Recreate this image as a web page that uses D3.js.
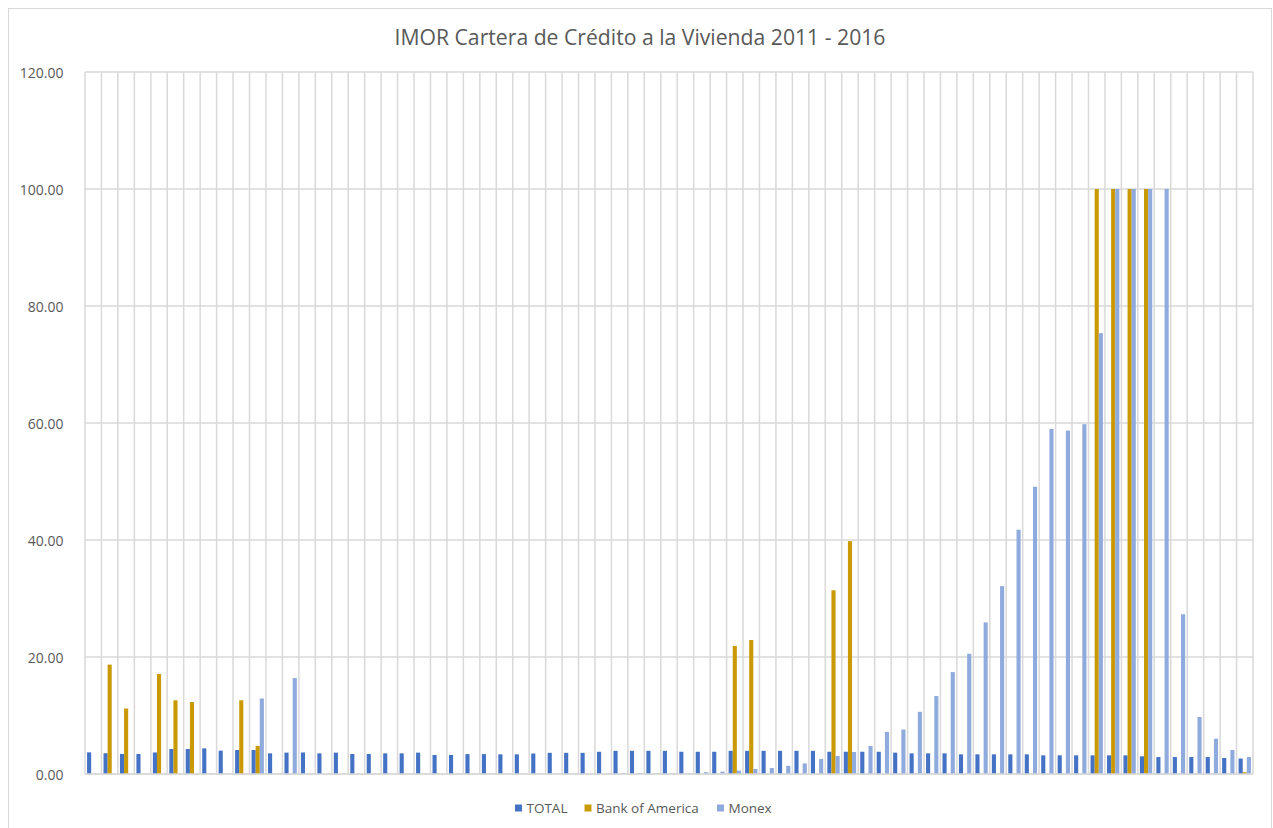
<!DOCTYPE html>
<html>
<head>
<meta charset="utf-8">
<script src="https://cdn.jsdelivr.net/npm/d3@7"></script>
<style>
  html, body { margin: 0; padding: 0; background: #ffffff; }
  svg { display: block; }
  text { font-family: "Open Sans", "Noto Sans", sans-serif; fill: #595959; }
</style>
</head>
<body>
<svg id="chart" width="1273" height="828"></svg>
<script>
// Monthly categories, Jan 2011 – Nov 2016
const categories = [
  "ene-11","feb-11","mar-11","abr-11","may-11","jun-11","jul-11","ago-11","sep-11","oct-11","nov-11","dic-11",
  "ene-12","feb-12","mar-12","abr-12","may-12","jun-12","jul-12","ago-12","sep-12","oct-12","nov-12","dic-12",
  "ene-13","feb-13","mar-13","abr-13","may-13","jun-13","jul-13","ago-13","sep-13","oct-13","nov-13","dic-13",
  "ene-14","feb-14","mar-14","abr-14","may-14","jun-14","jul-14","ago-14","sep-14","oct-14","nov-14","dic-14",
  "ene-15","feb-15","mar-15","abr-15","may-15","jun-15","jul-15","ago-15","sep-15","oct-15","nov-15","dic-15",
  "ene-16","feb-16","mar-16","abr-16","may-16","jun-16","jul-16","ago-16","sep-16","oct-16","nov-16"
];

const seriesNames = ["TOTAL", "Bank of America", "Monex"];

// IMOR (%) per month
const totalValues = [
  3.70, 3.55, 3.42, 3.42, 3.68, 4.27, 4.27, 4.38, 3.99, 4.10, 4.10, 3.53,
  3.65, 3.68, 3.53, 3.65, 3.42, 3.42, 3.53, 3.53, 3.65, 3.25, 3.25, 3.40,
  3.40, 3.36, 3.36, 3.50, 3.62, 3.62, 3.62, 3.80, 3.96, 3.96, 3.96, 3.96,
  3.80, 3.80, 3.80, 3.96, 3.96, 3.96, 3.96, 3.96, 3.96, 3.80, 3.80, 3.80,
  3.80, 3.65, 3.53, 3.53, 3.53, 3.36, 3.36, 3.36, 3.36, 3.36, 3.19, 3.19,
  3.19, 3.19, 3.19, 3.19, 3.02, 2.90, 2.90, 2.90, 2.90, 2.74, 2.64
];

const bankOfAmericaValues = [
  0, 18.70, 11.20, 0, 17.10, 12.60, 12.30, 0, 0, 12.60, 4.80, 0,
  0, 0, 0, 0, 0, 0, 0, 0, 0, 0, 0, 0,
  0, 0, 0, 0, 0, 0, 0, 0, 0, 0, 0, 0,
  0, 0, 0, 21.90, 22.90, 0, 0, 0, 0, 31.40, 39.80, 0,
  0, 0, 0, 0, 0, 0, 0, 0, 0, 0, 0, 0,
  0, 100.00, 100.00, 100.00, 100.00, 0, 0, 0, 0, 0, 0.30
];

const monexValues = [
  0, 0, 0, 0, 0, 0, 0, 0, 0, 0, 12.90, 0,
  16.40, 0, 0, 0, 0, 0, 0, 0, 0, 0, 0, 0,
  0, 0, 0, 0, 0, 0, 0, 0, 0.10, 0.10, 0.10, 0.10,
  0.10, 0.30, 0.40, 0.57, 0.85, 1.02, 1.40, 1.81, 2.56, 3.08, 3.76, 4.79,
  7.20, 7.60, 10.63, 13.32, 17.42, 20.55, 25.92, 32.12, 41.76, 49.10, 58.98, 58.70,
  59.80, 75.36, 100.00, 100.00, 100.00, 100.00, 27.30, 9.74, 6.03, 4.10, 2.90
];

const yTicks = [0, 20, 40, 60, 80, 100, 120];

const colors = { "TOTAL": "#4472C4", "Bank of America": "#C99A06", "Monex": "#8FAADC" };

const seriesValues = {
  "TOTAL": totalValues,
  "Bank of America": bankOfAmericaValues,
  "Monex": monexValues
};

const svg = d3.select("#chart");
const W = 1273, H = 828;
const plot = { left: 85, right: 1253, top: 72, bottom: 774 };

// chart frame
svg.append("rect")
  .attr("x", 8.5).attr("y", 8.5)
  .attr("width", 1263).attr("height", 830)
  .attr("fill", "#ffffff").attr("stroke", "#d9d9d9").attr("stroke-width", 1);

// title
const title = svg.append("text")
  .attr("x", 640).attr("y", 45)
  .attr("text-anchor", "middle")
  .style("font-size", "20px")
  .text("IMOR Cartera de Crédito a la Vivienda 2011 - 2016");
const tw = title.node().getComputedTextLength();
title.style("font-size", (20 * 491 / tw).toFixed(2) + "px");

const x0 = d3.scaleBand().domain(categories).range([plot.left, plot.right]).paddingInner(0).paddingOuter(0);
const x1 = d3.scaleBand().domain(seriesNames).range([0, x0.bandwidth()]).paddingInner(0).paddingOuter(0.5);
const y = d3.scaleLinear().domain([0, 120]).range([plot.bottom, plot.top]);

// horizontal gridlines
svg.append("g")
  .selectAll("line")
  .data(yTicks)
  .join("line")
  .attr("x1", plot.left).attr("x2", plot.right)
  .attr("y1", d => y(d)).attr("y2", d => y(d))
  .attr("stroke", "#d9d9d9").attr("stroke-width", 1.5);

// vertical gridlines at category boundaries
const boundaries = categories.map(c => x0(c)).concat([x0(categories[categories.length - 1]) + x0.bandwidth()]);
svg.append("g")
  .selectAll("line")
  .data(boundaries)
  .join("line")
  .attr("x1", d => d).attr("x2", d => d)
  .attr("y1", plot.top).attr("y2", plot.bottom)
  .attr("stroke", "#d9d9d9").attr("stroke-width", 1.5);

// y axis labels
const yAxis = d3.axisLeft(y).tickValues(yTicks).tickFormat(d3.format(".2f")).tickSize(0).tickPadding(0);
const yg = svg.append("g").attr("transform", `translate(${plot.left - 21.5},0)`).call(yAxis);
yg.select(".domain").remove();
yg.selectAll("text")
  .style("font-size", "14px")
  .style("font-family", "\"Open Sans\", \"Noto Sans\", sans-serif")
  .attr("fill", "#595959")
  .attr("dy", "0.36em");

// bars
const groups = svg.append("g")
  .selectAll("g")
  .data(categories)
  .join("g")
  .attr("transform", d => `translate(${x0(d)},0)`);

groups.selectAll("rect")
  .data((c, i) => seriesNames.map(s => ({ s, v: seriesValues[s][i] })))
  .join("rect")
  .attr("x", d => x1(d.s))
  .attr("width", x1.bandwidth())
  .attr("y", d => y(d.v))
  .attr("height", d => y(0) - y(d.v))
  .attr("fill", d => colors[d.s]);

// horizontal axis line
svg.append("line")
  .attr("x1", plot.left).attr("x2", plot.right)
  .attr("y1", y(0)).attr("y2", y(0))
  .attr("stroke", "#d9d9d9").attr("stroke-width", 1.5);

// legend
const legendItems = [
  { name: "TOTAL", sx: 515, tx: 526.5 },
  { name: "Bank of America", sx: 584.5, tx: 596 },
  { name: "Monex", sx: 717, tx: 728.5 }
];
const lg = svg.append("g");
legendItems.forEach(it => {
  lg.append("rect")
    .attr("x", it.sx).attr("y", 804.5)
    .attr("width", 7).attr("height", 7)
    .attr("fill", colors[it.name]);
  lg.append("text")
    .attr("x", it.tx).attr("y", 813)
    .style("font-size", "13.5px")
    .text(it.name);
});
</script>
</body>
</html>
